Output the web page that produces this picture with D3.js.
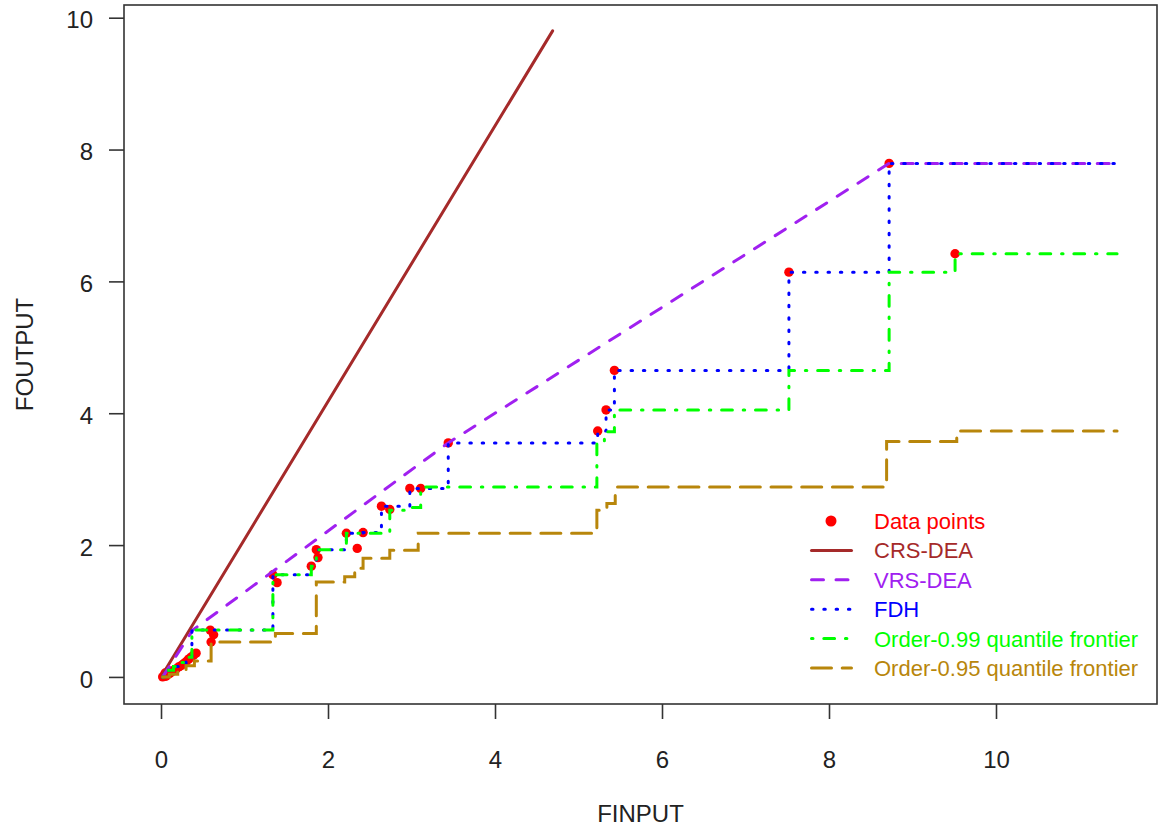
<!DOCTYPE html>
<html>
<head>
<meta charset="utf-8">
<script src="https://cdn.jsdelivr.net/npm/d3@7"></script>
<style>
  body { margin: 0; background: #fff; }
  svg { display: block; font-family: "Liberation Sans", Arial, sans-serif; }
</style>
</head>
<body>
<svg id="chart" width="1161" height="829"></svg>
<script>
// Frontier estimates: DEA (CRS / VRS), FDH and order-alpha quantile frontiers
const svg = d3.select("#chart");

// Observations
const pointX = [8.72, 9.51, 7.52, 5.43, 5.33, 5.23, 3.44, 3.11, 2.98, 2.64, 2.74, 2.22, 2.42, 2.35,
  1.86, 1.88, 1.80, 1.34, 1.39, 0.59, 0.63, 0.60,
  0.02, 0.04, 0.06, 0.05, 0.08, 0.10, 0.09, 0.12, 0.15, 0.18, 0.21, 0.24, 0.27, 0.30, 0.33, 0.36, 0.39, 0.42];
const pointY = [7.79, 6.42, 6.14, 4.65, 4.05, 3.73, 3.55, 2.86, 2.86, 2.59, 2.54, 2.18, 2.19, 1.95,
  1.93, 1.81, 1.68, 1.55, 1.43, 0.71, 0.64, 0.53,
  0.00, 0.02, 0.01, 0.06, 0.04, 0.05, 0.09, 0.07, 0.10, 0.12, 0.15, 0.17, 0.20, 0.23, 0.27, 0.30, 0.33, 0.36];

// CRS-DEA (ray through origin)
const crsX = [0.02, 4.69];
const crsY = [0.04, 9.80];

// VRS-DEA (piecewise linear hull)
const vrsX = [0.02, 0.38, 3.44, 8.72, 11.45];
const vrsY = [0.00, 0.71, 3.55, 7.79, 7.79];

// FDH (staircase)
const fdhX = [0.02, 0.05, 0.09, 0.15, 0.24, 0.30, 0.37, 1.34, 1.80, 1.86, 2.22, 2.42, 2.64, 2.98,
  3.44, 5.23, 5.33, 5.43, 7.52, 8.72, 11.45];
const fdhY = [0.00, 0.06, 0.10, 0.16, 0.22, 0.30, 0.71, 1.55, 1.68, 1.93, 2.18, 2.19, 2.59, 2.86,
  3.55, 3.73, 4.05, 4.65, 6.14, 7.79, 7.79];

// Order-0.99 quantile frontier
const q99X = [0.02, 0.05, 0.09, 0.15, 0.24, 0.30, 0.37, 1.34, 1.80, 1.86, 2.22, 2.74, 2.96, 3.11,
  5.22, 5.31, 5.43, 7.52, 8.72, 9.51, 11.45];
const q99Y = [0.00, 0.06, 0.10, 0.16, 0.22, 0.30, 0.71, 1.55, 1.68, 1.93, 2.18, 2.53, 2.57, 2.88,
  3.56, 3.72, 4.05, 4.65, 6.14, 6.42, 6.42];

// Order-0.95 quantile frontier
const q95X = [0.02, 0.10, 0.20, 0.30, 0.40, 0.60, 1.37, 1.86, 2.20, 2.32, 2.42, 2.74, 3.08,
  5.22, 5.34, 5.44, 8.69, 9.53, 11.45];
const q95Y = [0.00, 0.04, 0.10, 0.17, 0.24, 0.53, 0.66, 1.44, 1.52, 1.65, 1.80, 1.92, 2.18,
  2.53, 2.63, 2.88, 3.57, 3.73, 3.73];

const xTicks = [0, 2, 4, 6, 8, 10];
const yTicks = [0, 2, 4, 6, 8, 10];
const legendLabels = ["Data points", "CRS-DEA", "VRS-DEA", "FDH",
  "Order-0.99 quantile frontier", "Order-0.95 quantile frontier"];

// data range, padded 4% like base R
const xLim = [0.015, 11.47];
const yLim = [-0.018, 9.8];

const margin = { top: 5, right: 4, bottom: 125, left: 124 };
const width = 1161, height = 829;
const innerWidth = width - margin.left - margin.right;
const innerHeight = height - margin.top - margin.bottom;

const pad = (lim) => {
  const d = (lim[1] - lim[0]) * 0.04;
  return [lim[0] - d, lim[1] + d];
};

const x = d3.scaleLinear().domain(pad(xLim)).range([0, innerWidth]);
const y = d3.scaleLinear().domain(pad(yLim)).range([innerHeight, 0]);

const series = [
  { key: "CRS-DEA", xs: crsX, ys: crsY, color: "#A52A2A", dash: null, curve: d3.curveLinear },
  { key: "VRS-DEA", xs: vrsX, ys: vrsY, color: "#A020F0", dash: "12,12.5", curve: d3.curveLinear },
  { key: "FDH", xs: fdhX, ys: fdhY, color: "#0000FF", dash: "1.5,10.8", curve: d3.curveStepAfter },
  { key: "Order-0.99 quantile frontier", xs: q99X, ys: q99Y, color: "#00FF00", dash: "1.5,10.8,10.8,10.8", curve: d3.curveStepAfter },
  { key: "Order-0.95 quantile frontier", xs: q95X, ys: q95Y, color: "#B8860B", dash: "20,10.7", curve: d3.curveStepAfter }
];
const pointColor = "#FF0000";
const textColor = "#222";

const chart = svg.append("g")
  .attr("transform", `translate(${margin.left},${margin.top})`);

svg.append("defs").append("clipPath").attr("id", "plot-clip")
  .append("rect").attr("width", innerWidth).attr("height", innerHeight);

// Points (drawn first, lines go on top)
chart.append("g")
  .attr("clip-path", "url(#plot-clip)")
  .selectAll("circle")
  .data(pointX.map((v, i) => [v, pointY[i]]))
  .join("circle")
  .attr("cx", d => x(d[0]))
  .attr("cy", d => y(d[1]))
  .attr("r", 4.7)
  .attr("fill", pointColor);

// Box
chart.append("rect")
  .attr("width", innerWidth)
  .attr("height", innerHeight)
  .attr("fill", "none")
  .attr("stroke", "#333")
  .attr("stroke-width", 1.6);

// Axes (ticks only, the box stands in for the axis lines)
const xAxis = chart.append("g")
  .attr("transform", `translate(0,${innerHeight})`)
  .call(d3.axisBottom(x).tickValues(xTicks).tickSize(15).tickPadding(32).tickFormat(d3.format("d")));
const yAxis = chart.append("g")
  .call(d3.axisLeft(y).tickValues(yTicks).tickSize(15).tickPadding(16).tickFormat(d3.format("d")));

[xAxis, yAxis].forEach(a => {
  a.attr("font-size", 24).attr("font-family", "'Liberation Sans', Arial, sans-serif");
  a.select(".domain").remove();
  a.selectAll(".tick line").attr("stroke", "#333").attr("stroke-width", 1.6);
  a.selectAll(".tick text").attr("fill", textColor);
});
yAxis.selectAll(".tick text").attr("dy", "0.42em");

// Axis labels
svg.append("text")
  .attr("x", margin.left + innerWidth / 2)
  .attr("y", 822)
  .attr("text-anchor", "middle")
  .attr("fill", textColor)
  .attr("font-size", 24)
  .text("FINPUT");

svg.append("text")
  .attr("transform", `translate(33,${margin.top + innerHeight / 2}) rotate(-90)`)
  .attr("text-anchor", "middle")
  .attr("fill", textColor)
  .attr("font-size", 24)
  .text("FOUTPUT");

// Frontier lines
const lineGroup = chart.append("g").attr("clip-path", "url(#plot-clip)");
series.forEach(s => {
  const line = d3.line().x(d => x(d[0])).y(d => y(d[1])).curve(s.curve);
  lineGroup.append("path")
    .datum(s.xs.map((v, i) => [v, s.ys[i]]))
    .attr("fill", "none")
    .attr("stroke", s.color)
    .attr("stroke-width", 3)
    .attr("stroke-linecap", "round")
    .attr("stroke-dasharray", s.dash)
    .attr("d", line);
});

// Legend (no frame)
const legend = svg.append("g").attr("transform", "translate(810,521)");
const rowH = 29.4;
const legendColors = [pointColor].concat(series.map(s => s.color));

legendLabels.forEach((label, i) => {
  const row = legend.append("g").attr("transform", `translate(0,${i * rowH})`);
  if (i === 0) {
    row.append("circle").attr("cx", 21).attr("cy", 0).attr("r", 5.5).attr("fill", pointColor);
  } else {
    const s = series[i - 1];
    row.append("line")
      .attr("x1", 1.5).attr("x2", 41.5)
      .attr("stroke", s.color)
      .attr("stroke-width", 3)
      .attr("stroke-linecap", "round")
      .attr("stroke-dasharray", s.dash);
  }
  row.append("text")
    .attr("x", 64)
    .attr("y", 8)
    .attr("fill", legendColors[i])
    .attr("font-size", 22)
    .text(label);
});
</script>
</body>
</html>
